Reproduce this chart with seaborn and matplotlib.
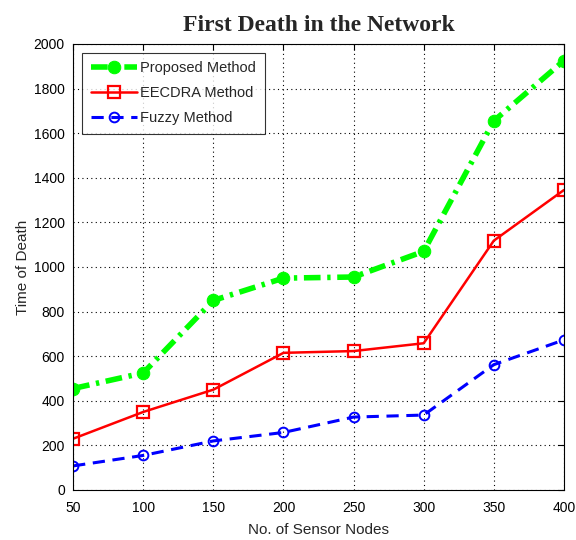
import matplotlib
matplotlib.use("Agg")
import matplotlib.pyplot as plt
import seaborn as sns
import pandas as pd

# Network lifetime: round at which the first sensor node dies
nodes = [50, 100, 150, 200, 250, 300, 350, 400]
proposed = [455, 525, 850, 950, 955, 1070, 1655, 1925]
eecdra = [230, 350, 450, 615, 623, 658, 1118, 1345]
fuzzy = [108, 155, 220, 258, 327, 336, 562, 673]
x_ticks = [50, 100, 150, 200, 250, 300, 350, 400]
y_ticks = list(range(0, 2001, 200))

sns.set_style("white")
plt.rcParams["font.family"] = ["Liberation Sans", "DejaVu Sans"]

fig = plt.figure(figsize=(5.76, 5.4), dpi=100)
ax = fig.add_axes([0.127, 0.0926, 0.852, 0.826])

df = pd.DataFrame({"nodes": nodes, "Proposed Method": proposed,
                   "EECDRA Method": eecdra, "Fuzzy Method": fuzzy})

sns.lineplot(data=df, x="nodes", y="Proposed Method", ax=ax, color="#00ff00",
             linestyle=(0, (3, 1.2, 0.6, 1.2)), linewidth=4, marker="o", markersize=9,
             markerfacecolor="#00ff00", markeredgecolor="#00ff00",
             label="Proposed Method")
sns.lineplot(data=df, x="nodes", y="EECDRA Method", ax=ax, color="#ff0000",
             linestyle="-", linewidth=1.8, marker="s", markersize=9,
             markerfacecolor="none", markeredgecolor="#ff0000", markeredgewidth=1.6,
             label="EECDRA Method")
sns.lineplot(data=df, x="nodes", y="Fuzzy Method", ax=ax, color="#0000ff",
             linestyle=(0, (4, 2.5)), linewidth=2.2, marker="o", markersize=7,
             markerfacecolor="none", markeredgecolor="#0000ff", markeredgewidth=1.4,
             label="Fuzzy Method")

ax.set_xlim(50, 400)
ax.set_ylim(0, 2000)
ax.set_xticks(x_ticks)
ax.set_yticks(y_ticks)
ax.tick_params(direction="in", length=4, labelsize=10, top=True, right=True,
               colors="black")
ax.tick_params(axis="x", pad=8)
ax.tick_params(axis="y", pad=6)
ax.grid(True, linestyle=(0, (1, 3)), color="black", linewidth=0.8)
for s in ax.spines.values():
    s.set_color("black")
    s.set_linewidth(0.8)

ax.set_xlabel("No. of Sensor Nodes", fontsize=11, labelpad=6)
ax.set_ylabel("Time of Death", fontsize=11, labelpad=3)
ax.set_title("First Death in the Network", fontsize=17, fontweight="bold",
             family=["Liberation Serif", "DejaVu Serif"], pad=9)

leg = ax.legend(loc="upper left", fontsize=10.5, frameon=True, fancybox=False,
                edgecolor="black", borderaxespad=0.6, handlelength=3.2,
                labelspacing=0.75, borderpad=0.6, handletextpad=0.2)
leg.get_frame().set_linewidth(0.8)

fig.savefig("out.png", dpi=100)
